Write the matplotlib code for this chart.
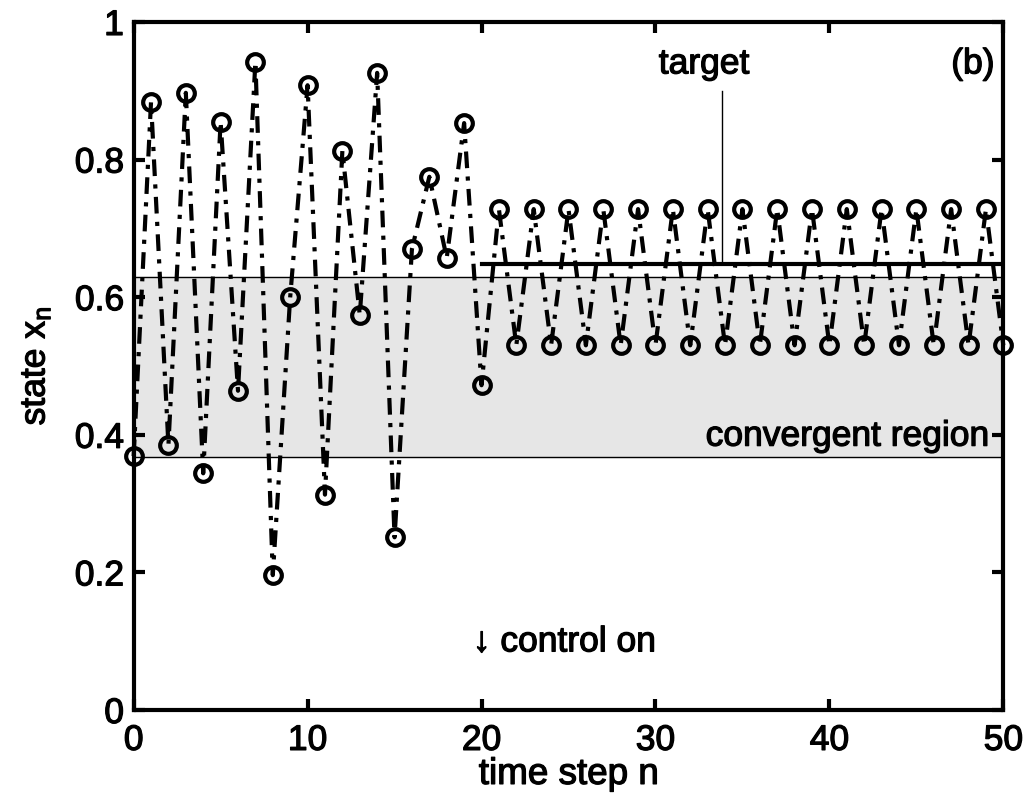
import numpy as np
from matplotlib import pyplot as plt
import matplotlib.patheffects as pe

plt.rcParams['font.family'] = ['Liberation Sans', 'DejaVu Sans']
plt.rcParams['mathtext.fontset'] = 'custom'
plt.rcParams['mathtext.rm'] = 'Liberation Sans'

# state values x_n
n = np.arange(0, 51)
x_chaos = [0.369, 0.884, 0.385, 0.897, 0.344, 0.855, 0.464, 0.942, 0.196, 0.600,
           0.908, 0.313, 0.8125, 0.574, 0.926, 0.251, 0.670, 0.775, 0.657, 0.853,
           0.472]
x_hi = 0.728
x_lo = 0.530
x_ctrl = [x_hi if k % 2 == 1 else x_lo for k in range(21, 51)]
x_n = x_chaos + x_ctrl

target = 0.648
target_n = [20, 50]
region = [0.368, 0.629]
target_tick_n = 33.8

heavy = [pe.withStroke(linewidth=0.9, foreground='k')]

fig = plt.figure(figsize=(10.28, 8.01), dpi=100)
ax = fig.add_axes([0.130, 0.1136, 0.846, 0.859])

ax.axhspan(region[0], region[1], color='#e6e6e6', zorder=0)
ax.axhline(region[0], color='k', lw=1, zorder=1)
ax.axhline(region[1], color='k', lw=1, zorder=1)

ax.plot(target_n, [target, target], color='k', lw=3, zorder=2)
ax.plot([target_tick_n, target_tick_n], [target, 0.90], color='k', lw=1, zorder=2)

ax.plot(n, x_n, color='k', lw=3, ls=(0, (4, 2, 1, 2)),
        marker='o', ms=12, mfc='none', mec='k', mew=3, zorder=3, clip_on=False)

fs = 25.5
ax.text(32.8, 0.915, 'target', ha='center', va='bottom', fontsize=fs, path_effects=heavy)
ax.text(49.5, 0.915, '(b)', ha='right', va='bottom', fontsize=fs, path_effects=heavy)
ax.text(49.2, 0.374, 'convergent region', ha='right', va='bottom', fontsize=fs, path_effects=heavy)
ax.text(19.5, 0.075, '\u2193 control on', ha='left', va='bottom', fontsize=fs, path_effects=heavy)

ax.set_xlim(0, 50)
ax.set_ylim(0, 1)
ax.set_xticks([0, 10, 20, 30, 40, 50])
ax.set_yticks([0, 0.2, 0.4, 0.6, 0.8, 1])
ax.set_yticklabels(['0', '0.2', '0.4', '0.6', '0.8', '1'])
ax.tick_params(direction='in', length=8, width=3, labelsize=fs,
               top=True, right=True)
ax.tick_params(axis='x', pad=10)
ax.tick_params(axis='y', pad=7)
for lab in ax.get_xticklabels() + ax.get_yticklabels():
    lab.set_path_effects(heavy)
for s in ax.spines.values():
    s.set_linewidth(3)

ax.set_xlabel('time step n', fontsize=26.5, labelpad=0, path_effects=heavy)
ax.set_ylabel('state x$_\\mathregular{n}$', fontsize=fs, labelpad=16, path_effects=heavy)

fig.savefig('out.png', dpi=100)
